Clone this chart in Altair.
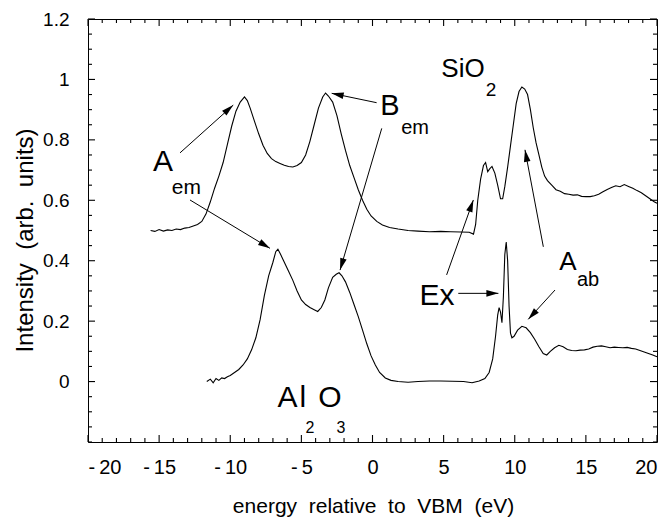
import math
import altair as alt
import pandas as pd

# ---------------- data ----------------
sio2_x = [-15.6, -15.3, -15.0, -14.7, -14.4, -14.1, -13.8, -13.5, -13.2, -12.9, -12.6, -12.3,
          -12.0, -11.7, -11.4, -11.1, -10.8, -10.5, -10.2, -9.9, -9.6, -9.3, -9.0, -8.8, -8.6,
          -8.3, -8.0, -7.7, -7.4, -7.1, -6.8, -6.5, -6.2, -5.9, -5.6, -5.3, -5.0, -4.7, -4.4,
          -4.1, -3.8, -3.5, -3.3, -3.1, -2.8, -2.5, -2.2, -1.9, -1.6, -1.3, -1.0, -0.7, -0.4,
          -0.1, 0.3, 0.7, 1.2, 1.8, 2.5, 3.2, 4.0, 4.8, 5.5, 6.2, 6.8, 7.1, 7.25, 7.4, 7.6,
          7.8, 7.95, 8.1, 8.25, 8.4, 8.6, 8.8, 9.0, 9.15, 9.3, 9.5, 9.7, 9.9, 10.1, 10.3, 10.5,
          10.7, 10.9, 11.1, 11.3, 11.5, 11.7, 11.9, 12.1, 12.3, 12.6, 12.9, 13.2, 13.5, 13.8,
          14.1, 14.4, 14.7, 15.0, 15.3, 15.6, 15.9, 16.2, 16.5, 16.8, 17.1, 17.4, 17.7, 18.0,
          18.3, 18.6, 18.9, 19.2, 19.5, 19.8, 20.0]
sio2_y = [0.500, 0.497, 0.503, 0.498, 0.502, 0.500, 0.505, 0.503, 0.508, 0.510, 0.515, 0.520,
          0.530, 0.555, 0.595, 0.640, 0.680, 0.725, 0.785, 0.845, 0.895, 0.925, 0.942, 0.930, 0.905,
          0.862, 0.820, 0.782, 0.755, 0.738, 0.728, 0.722, 0.716, 0.712, 0.710, 0.715, 0.725, 0.750, 0.795,
          0.850, 0.905, 0.942, 0.955, 0.945, 0.925, 0.880, 0.820, 0.765, 0.715, 0.675, 0.635, 0.600, 0.570,
          0.548, 0.530, 0.518, 0.510, 0.505, 0.500, 0.498, 0.496, 0.497, 0.496, 0.495, 0.494, 0.488, 0.520, 0.600, 0.670,
          0.715, 0.725, 0.695, 0.705, 0.712, 0.690, 0.650, 0.605, 0.605, 0.645, 0.710, 0.780, 0.850, 0.920, 0.960, 0.975,
          0.968, 0.950, 0.900, 0.840, 0.790, 0.750, 0.710, 0.680, 0.665, 0.650, 0.635, 0.630, 0.622, 0.620,
          0.617, 0.618, 0.613, 0.612, 0.612, 0.615, 0.620, 0.628, 0.636, 0.642, 0.648, 0.645, 0.652, 0.646,
          0.640, 0.632, 0.625, 0.615, 0.605, 0.595, 0.590]

al2o3_x = [-11.65, -11.4, -11.2, -11.0, -10.8, -10.6, -10.4, -10.2, -10.0, -9.7, -9.4, -9.1, -8.8,
           -8.5, -8.2, -7.9, -7.6, -7.3, -7.0, -6.8, -6.65, -6.5, -6.3, -6.1, -5.9, -5.6, -5.3, -5.0,
           -4.7, -4.4, -4.1, -3.85, -3.6, -3.35, -3.1, -2.8, -2.55, -2.35, -2.15, -1.9, -1.6, -1.3,
           -1.0, -0.7, -0.4, -0.1, 0.2, 0.5, 0.9, 1.3, 1.8, 2.5, 3.2, 4.0, 4.8, 5.6, 6.4, 7.0, 7.5,
           7.9, 8.2, 8.45, 8.65, 8.8, 8.9, 9.0, 9.1, 9.2, 9.3, 9.4, 9.5, 9.6, 9.7, 9.8, 9.95, 10.2,
           10.5, 10.8, 11.1, 11.4, 11.7, 12.0, 12.25, 12.5, 12.8, 13.1, 13.4, 13.7, 14.0, 14.3, 14.6,
           14.9, 15.2, 15.5, 15.8, 16.1, 16.4, 16.7, 17.0, 17.3, 17.6, 17.9, 18.2, 18.5, 18.8, 19.1,
           19.4, 19.7, 20.0]
al2o3_y = [0.000, 0.008, -0.004, 0.010, 0.004, 0.012, 0.010, 0.016, 0.020, 0.030, 0.040, 0.055, 0.075,
           0.105, 0.145, 0.205, 0.285, 0.350, 0.395, 0.430, 0.438, 0.425, 0.405, 0.385, 0.365, 0.335, 0.300, 0.270,
           0.255, 0.245, 0.238, 0.232, 0.245, 0.270, 0.310, 0.345, 0.355, 0.360, 0.350, 0.330, 0.295, 0.255,
           0.215, 0.170, 0.125, 0.085, 0.055, 0.030, 0.012, 0.004, 0.000, -0.002, 0.000, 0.002, 0.002, 0.001, 0.000, -0.004, 0.002,
           0.010, 0.030, 0.075, 0.150, 0.220, 0.245, 0.230, 0.195, 0.280, 0.420, 0.462, 0.400, 0.250, 0.160, 0.145, 0.150, 0.170,
           0.183, 0.178, 0.162, 0.140, 0.115, 0.093, 0.088, 0.100, 0.112, 0.120, 0.115, 0.106, 0.103, 0.102, 0.104,
           0.105, 0.108, 0.114, 0.117, 0.118, 0.115, 0.112, 0.114, 0.113, 0.112, 0.113, 0.110, 0.108, 0.103, 0.098,
           0.093, 0.088, 0.082]

x_major = [-20, -15, -10, -5, 0, 5, 10, 15, 20]
x_minor = list(range(-20, 21))
y_major = [0, 0.2, 0.4, 0.6, 0.8, 1.0, 1.2]
y_minor = [round(-0.2 + 0.05 * i, 2) for i in range(29)]

# annotation arrows: start (x, y) -> tip (x2, y2)
arrow_x = [-13.53, -12.83, 0.29, 0.65, 5.21, 6.03, 12.01, 12.83]
arrow_y = [0.757, 0.601, 0.923, 0.838, 0.353, 0.292, 0.446, 0.303]
arrow_x2 = [-9.79, -7.21, -2.87, -2.28, 7.09, 8.85, 10.72, 10.95]
arrow_y2 = [0.915, 0.441, 0.954, 0.369, 0.601, 0.292, 0.767, 0.206]

# text labels
label_text = ["A", "em", "B", "em", "SiO", "2", "Ex", "A", "ab", "A", "l", "O", "2", "3"]
label_x = [-14.73, -13.08, 1.23, 2.99, 6.36, 8.33, 4.53, 13.74, 15.15, -5.98, -4.89, -2.99, -4.39, -2.21]
label_y = [0.727, 0.641, 0.912, 0.839, 1.035, 0.965, 0.283, 0.396, 0.336, -0.054, -0.054, -0.054, -0.154, -0.154]
label_size = [30, 21, 29, 20, 26, 19, 30, 26, 20, 30, 30, 30, 16, 16]

# ---------------- build ----------------
W, H = 569, 423
FONT = "Liberation Sans, Arial, sans-serif"
NB = "\u00a0"

X_LO, X_HI, Y_LO, Y_HI = -20, 20, -0.2, 1.2
xs = alt.Scale(domain=[X_LO, X_HI], nice=False, zero=False)
ys = alt.Scale(domain=[Y_LO, Y_HI], nice=False, zero=False)
px_per_x = W / (X_HI - X_LO)
px_per_y = H / (Y_HI - Y_LO)

XAXIS = alt.Axis(
    values=x_major, ticks=False, domain=False, grid=False,
    labelExpr="(datum.value < 0 ? '-\u2009' : '') + abs(datum.value)",
    labelFontSize=20, labelFont=FONT, labelColor="black", labelPadding=15,
    title=f"energy{NB}{NB}relative{NB}{NB}to{NB}{NB}VBM{NB}{NB}(eV)", titleFontSize=21, titleFont=FONT,
    titleFontWeight="normal", titleColor="black", titleX=285, titleY=64,
    titleBaseline="middle", titleAlign="center")
YAXIS = alt.Axis(
    values=y_major, ticks=False, domain=False, grid=False,
    labelExpr="format(datum.value, '.1~f')",
    labelFontSize=19, labelFont=FONT, labelColor="black", labelPadding=19,
    title=f"Intensity{NB}{NB}(arb.{NB}{NB}units)", titleFontSize=24, titleFont=FONT,
    titleFontWeight="normal", titleColor="black", titleX=-63, titleY=221,
    titleAngle=270, titleBaseline="middle", titleAlign="center")

# curves plus inward frame ticks, all as line segments in one line layer
rows = []
for i, (x, y) in enumerate(zip(sio2_x, sio2_y)):
    rows.append({"x": x, "y": y, "g": "SiO2", "k": i})
for i, (x, y) in enumerate(zip(al2o3_x, al2o3_y)):
    rows.append({"x": x, "y": y, "g": "Al2O3", "k": i})

MAJ, MIN = 7, 4
for v in x_minor:
    L = (MAJ if v in x_major else MIN) / px_per_y
    rows += [{"x": v, "y": Y_LO, "g": f"xb{v}", "k": 0},
             {"x": v, "y": Y_LO + L, "g": f"xb{v}", "k": 1},
             {"x": v, "y": Y_HI, "g": f"xt{v}", "k": 0},
             {"x": v, "y": Y_HI - L, "g": f"xt{v}", "k": 1}]
for v in y_minor:
    L = (MAJ if any(abs(v - m) < 1e-9 for m in y_major) else MIN) / px_per_x
    rows += [{"x": X_LO, "y": v, "g": f"yl{v}", "k": 0},
             {"x": X_LO + L, "y": v, "g": f"yl{v}", "k": 1},
             {"x": X_HI, "y": v, "g": f"yr{v}", "k": 0},
             {"x": X_HI - L, "y": v, "g": f"yr{v}", "k": 1}]
curves = pd.DataFrame(rows)

lines = alt.Chart(curves).mark_line(color="black", strokeWidth=1.1, clip=False).encode(
    x=alt.X("x:Q", scale=xs, axis=XAXIS),
    y=alt.Y("y:Q", scale=ys, axis=YAXIS),
    detail="g:N",
    order=alt.Order("k:Q"),
)

# arrow head angles (pixel space, clockwise from up)
angles = []
for x1, y1, x2, y2 in zip(arrow_x, arrow_y, arrow_x2, arrow_y2):
    dxp = (x2 - x1) * px_per_x
    dyp = -(y2 - y1) * px_per_y
    angles.append(math.degrees(math.atan2(dxp, -dyp)) % 360)

arrows_df = pd.DataFrame({"x0": arrow_x, "y0": arrow_y, "x": arrow_x2, "y": arrow_y2, "angle": angles})

arrow_lines = alt.Chart(arrows_df).mark_rule(color="black", strokeWidth=1).encode(
    x=alt.X("x0:Q", scale=xs, axis=None), y=alt.Y("y0:Q", scale=ys, axis=None),
    x2="x:Q", y2="y:Q")

arrow_heads = alt.Chart(arrows_df).mark_point(
    shape="M0,0L0.55,2L-0.55,2Z", filled=True, color="black", opacity=1, size=144, strokeWidth=0
).encode(
    x=alt.X("x:Q", scale=xs, axis=None), y=alt.Y("y:Q", scale=ys, axis=None),
    angle=alt.Angle("angle:Q", scale=None))

labels_df = pd.DataFrame({"t": label_text, "x": label_x, "y": label_y, "fs": label_size})
labels = alt.Chart(labels_df).mark_text(
    color="black", font=FONT, align="center", baseline="middle"
).encode(
    x=alt.X("x:Q", scale=xs, axis=None), y=alt.Y("y:Q", scale=ys, axis=None),
    text="t:N", size=alt.Size("fs:Q", scale=None, legend=None))

chart = alt.layer(lines, arrow_lines, arrow_heads, labels).resolve_axis(
    x="independent", y="independent"
).properties(
    width=W, height=H,
    autosize=alt.AutoSizeParams(type="none"),
    padding={"left": 80, "top": 11, "right": 6, "bottom": 78},
    background="white",
).configure_view(stroke="black", strokeWidth=1)

chart.save("out.html", embed_options={"renderer": "svg", "actions": False})
